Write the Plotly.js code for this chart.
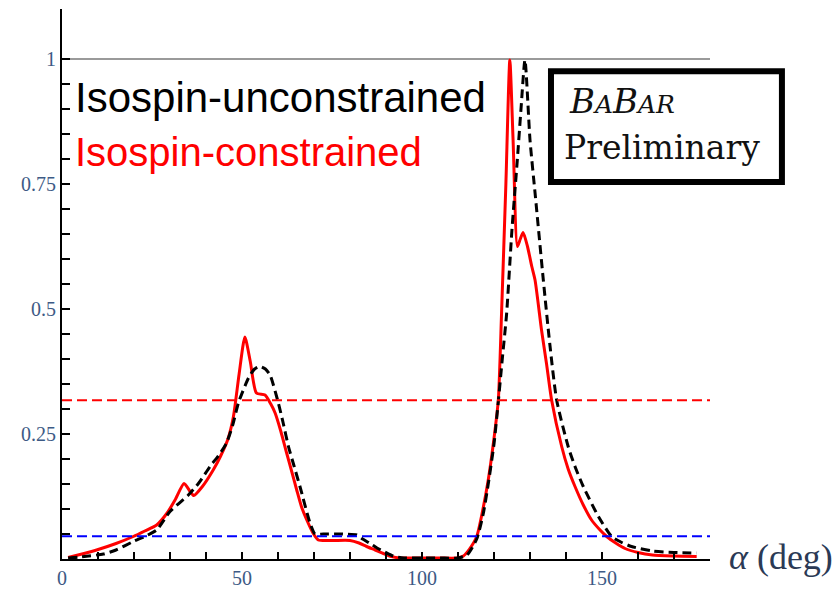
<!DOCTYPE html>
<html><head><meta charset="utf-8">
<script src="https://cdn.plot.ly/plotly-3.0.1.min.js"></script>
<style>html,body{margin:0;padding:0;background:#fff;} #chart{width:833px;height:590px;}</style>
</head><body><div id="chart"></div>
<script>
// Isospin-constrained scan (red solid)
const alphaConstrained = [1.7,5,9.6,15,19.8,23,26.3,29.1,31.4,33.9,35.6,36.6,39,42,44,46,47.6,49.2,50.8,52.3,54,56.4,58,59.2,60.8,62.4,64,65.2,66.5,68,69.8,71.2,75,80,82.5,84.6,87,89.3,91.5,93.9,100,105,109.6,111.5,113.2,115.2,116.8,118.4,119.8,121.2,122.1,123.3,124.4,125.3,126.5,127.3,128.1,129.3,130.5,131.4,133.2,134.6,136,138.8,140.6,142.5,144.8,147.1,149.2,151.3,153.8,156.4,160,164,170,176.3];
const probConstrained = [0.003,0.009,0.018,0.031,0.045,0.056,0.068,0.091,0.118,0.151,0.135,0.127,0.145,0.178,0.205,0.238,0.284,0.37,0.444,0.395,0.332,0.328,0.31,0.292,0.255,0.212,0.17,0.138,0.105,0.078,0.051,0.038,0.037,0.037,0.032,0.025,0.018,0.011,0.005,0.002,0.002,0.002,0.002,0.006,0.02,0.045,0.095,0.158,0.23,0.318,0.492,0.75,0.998,0.838,0.625,0.64,0.653,0.625,0.585,0.558,0.458,0.39,0.318,0.225,0.18,0.145,0.108,0.078,0.06,0.045,0.032,0.021,0.013,0.008,0.006,0.005];

// Isospin-unconstrained scan (black dashed)
const alphaUnconstrained = [1.7,5,11.5,15,19.8,23,26.3,30,35.1,38,41.1,43.5,45.7,47.5,49,51.8,53.5,55,56.5,57.8,60.1,61.5,62.9,64.5,66.1,68.9,70.3,72.6,78,81.9,83.5,85.6,87.5,89.7,92,95,100,105,110,112.5,115.2,117,118.4,120,121.2,122.3,123.5,125,126.5,127.5,128.6,130,131.5,133.7,135.5,137.4,140.6,142.5,144.8,149,152.7,155.5,158.2,164,170,176.3];
const probUnconstrained = [0.002,0.004,0.01,0.018,0.035,0.045,0.058,0.095,0.128,0.152,0.185,0.207,0.232,0.27,0.312,0.362,0.38,0.385,0.38,0.368,0.312,0.27,0.225,0.185,0.145,0.072,0.05,0.05,0.05,0.048,0.04,0.031,0.022,0.014,0.006,0.002,0.002,0.002,0.002,0.008,0.04,0.09,0.15,0.23,0.315,0.4,0.49,0.66,0.8,0.9,0.998,0.838,0.725,0.558,0.43,0.318,0.225,0.185,0.145,0.085,0.045,0.033,0.025,0.016,0.013,0.012];

// confidence-level reference lines
const CL_ONE_SIGMA = 0.3173;
const CL_TWO_SIGMA = 0.0455;
const CL_MAX = 1;

// ticks
const xTickVals = [0,10,20,30,40,50,60,70,80,90,100,110,120,130,140,150,160,170,180];
const xTickText = ["0","","","","","50","","","","","100","","","","","150","","",""];
const yTickVals = [0.05,0.1,0.15,0.2,0.25,0.3,0.35,0.4,0.45,0.5,0.55,0.6,0.65,0.7,0.75,0.8,0.85,0.9,0.95,1];
const yTickText = ["","","","","0.25","","","","","0.5","","","","","0.75","","","","","1"];

const seriesNames = ["Isospin-unconstrained","Isospin-constrained"];

const tickFont = {family:"Liberation Serif, serif", size:20, color:"#3d5a85"};

const traces = [
  {x:alphaConstrained, y:probConstrained, type:"scatter", mode:"lines", name:seriesNames[1],
   line:{color:"#ff0000", width:3, shape:"spline", smoothing:0.6}},
  {x:alphaUnconstrained, y:probUnconstrained, type:"scatter", mode:"lines", name:seriesNames[0],
   line:{color:"#000000", width:3, dash:"9px,5px", shape:"spline", smoothing:0.6}}
];

const layout = {
  width:833, height:590,
  margin:{l:62, r:123, t:9, b:31},
  paper_bgcolor:"#ffffff", plot_bgcolor:"#ffffff",
  showlegend:false,
  xaxis:{range:[0,180], showline:true, linecolor:"#000", linewidth:2, showgrid:false, zeroline:false,
    ticks:"inside", ticklen:7, tickwidth:1.5, tickcolor:"#000",
    tickmode:"array", tickvals:xTickVals, ticktext:xTickText, tickfont:tickFont},
  yaxis:{range:[0,1.1], showline:true, linecolor:"#000", linewidth:2, showgrid:false, zeroline:false,
    ticks:"inside", ticklen:8, tickwidth:1.5, tickcolor:"#000",
    tickmode:"array", tickvals:yTickVals, ticktext:yTickText, tickfont:tickFont},
  shapes:[
    {type:"line", xref:"paper", x0:0, x1:1, yref:"y", y0:CL_MAX, y1:CL_MAX, layer:"below",
     line:{color:"#9a9a9a", width:2}},
    {type:"line", xref:"paper", x0:0, x1:1, yref:"y", y0:CL_ONE_SIGMA, y1:CL_ONE_SIGMA, layer:"above",
     line:{color:"#ff0000", width:2, dash:"10px,5px"}},
    {type:"line", xref:"paper", x0:0, x1:1, yref:"y", y0:CL_TWO_SIGMA, y1:CL_TWO_SIGMA, layer:"above",
     line:{color:"#0000ff", width:2, dash:"10px,5px"}},
    {type:"rect", xref:"paper", yref:"paper", x0:0.7546, x1:1.111, y0:0.6855, y1:0.887, layer:"above",
     fillcolor:"#ffffff", line:{color:"#000", width:6}}
  ],
  annotations:[
    {xref:"paper", yref:"paper", x:0.017, y:0.84, xanchor:"left", yanchor:"middle", showarrow:false,
     text:seriesNames[0], font:{family:"Liberation Sans, Arial, sans-serif", size:42, color:"#000"}},
    {xref:"paper", yref:"paper", x:0.017, y:0.74, xanchor:"left", yanchor:"middle", showarrow:false,
     text:seriesNames[1], font:{family:"Liberation Sans, Arial, sans-serif", size:40, color:"#ff0000"}},
    {xref:"paper", yref:"paper", x:0.78, y:0.833, xanchor:"left", yanchor:"middle", showarrow:false,
     text:"<i>B<span style=\"font-size:25px\">A</span>B<span style=\"font-size:25px\">AR</span></i>",
     font:{family:"DejaVu Serif, serif", size:34, color:"#111"}},
    {xref:"paper", yref:"paper", x:0.772, y:0.749, xanchor:"left", yanchor:"middle", showarrow:false,
     text:"Preliminary", font:{family:"DejaVu Serif, serif", size:33, color:"#111"}},
    {xref:"paper", yref:"paper", x:1.026, y:0.004, xanchor:"left", yanchor:"middle", showarrow:false,
     text:"<i>α</i> (deg)", font:{family:"Liberation Serif, serif", size:36, color:"#2b3a55"}}
  ]
};

Plotly.newPlot("chart", traces, layout, {staticPlot:true, displayModeBar:false});
</script>
</body></html>
